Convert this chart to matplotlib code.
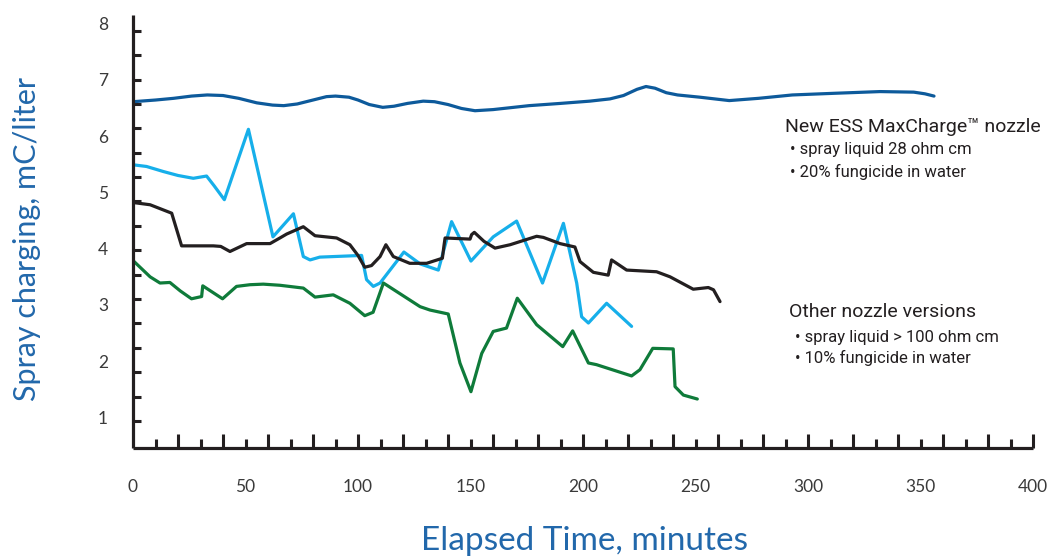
import matplotlib
matplotlib.use('Agg')
import matplotlib.pyplot as plt
import numpy as np

# New ESS MaxCharge nozzle (dark blue)
t_new = [0, 10, 18, 26, 33, 40, 47, 55, 62, 67, 73, 80, 86, 90, 96, 100, 105, 111, 116,
         122, 129, 134, 140, 146, 152, 160, 176, 190, 203, 212, 218, 224, 228, 232, 237,
         242, 252, 265, 278, 293, 312, 332, 347, 352, 356]
v_new = [6.61, 6.64, 6.67, 6.71, 6.73, 6.72, 6.67, 6.59, 6.55, 6.54, 6.57, 6.64, 6.70,
         6.71, 6.69, 6.64, 6.56, 6.51, 6.53, 6.58, 6.62, 6.61, 6.56, 6.49, 6.45, 6.47,
         6.54, 6.58, 6.62, 6.66, 6.72, 6.83, 6.88, 6.85, 6.77, 6.73, 6.69, 6.63, 6.67,
         6.73, 6.76, 6.79, 6.78, 6.75, 6.71]

# other nozzle versions
t_cyan = [0, 6, 13.5, 20, 26.8, 32.7, 36, 40.6, 51.3, 62.2, 71.3, 75.7, 78.7, 83, 101.6,
          103.8, 106.8, 109.8, 120.4, 127.6, 135.7, 141.6, 150.2, 160.1, 170.5, 182,
          191.3, 197.2, 199.4, 202.4, 210.5, 221.6]
v_cyan = [5.49, 5.46, 5.37, 5.30, 5.25, 5.29, 5.12, 4.87, 6.12, 4.21, 4.62, 3.86, 3.80,
          3.85, 3.88, 3.45, 3.33, 3.39, 3.94, 3.73, 3.62, 4.48, 3.78, 4.21, 4.49, 3.39,
          4.45, 3.39, 2.79, 2.68, 3.03, 2.62]

t_black = [0, 7.6, 17.2, 21.6, 35.7, 39, 43.1, 50.5, 60.9, 65.3, 68.3, 75.7, 80.9, 90.5,
           96.4, 100, 103, 106, 109.8, 112.4, 115.7, 123, 130.5, 137.5, 138.2, 138.7,
           149.8, 150.5, 151.7, 156, 160.9, 167.6, 179.4, 182.4, 189.8, 196.4, 198.7,
           204.6, 211.2, 212.7, 219.4, 232.7, 238.7, 249, 255.7, 258, 260.9]
v_black = [4.82, 4.78, 4.63, 4.05, 4.05, 4.04, 3.95, 4.09, 4.09, 4.19, 4.26, 4.39, 4.23,
           4.19, 4.07, 3.88, 3.67, 3.70, 3.86, 4.07, 3.86, 3.74, 3.74, 3.83, 4.05, 4.19,
           4.17, 4.25, 4.29, 4.13, 4.01, 4.07, 4.22, 4.20, 4.09, 4.03, 3.77, 3.58, 3.53,
           3.80, 3.62, 3.59, 3.50, 3.28, 3.31, 3.27, 3.06]

t_green = [0, 7.6, 12, 16.4, 21, 26, 30.5, 31, 39.8, 46, 52, 57.9, 65.3, 75.7, 80.9, 89,
           96.4, 103, 106.7, 111.3, 127.6, 132, 140.1, 145.3, 150.2, 155, 160.1, 166,
           170.8, 179.4, 191, 195.4, 202.4, 206, 221.6, 225.3, 231, 240.1, 240.9, 244.6,
           250.8]
v_green = [3.79, 3.50, 3.39, 3.40, 3.25, 3.11, 3.15, 3.34, 3.11, 3.33, 3.36, 3.37, 3.35,
           3.30, 3.14, 3.18, 3.03, 2.81, 2.87, 3.39, 2.97, 2.91, 2.84, 1.97, 1.46, 2.14,
           2.53, 2.59, 3.12, 2.65, 2.26, 2.54, 1.97, 1.94, 1.74, 1.85, 2.23, 2.22, 1.55,
           1.40, 1.33]

x_labels = [0, 50, 100, 150, 200, 250, 300, 350, 400]
y_labels = [1, 2, 3, 4, 5, 6, 7, 8]

AXIS_BLUE = '#2268ab'
INK = '#231f20'

fig = plt.figure(figsize=(10.51, 5.56), dpi=100)
ax = fig.add_axes([133 / 1051, 108 / 556, 900 / 1051, 433 / 556])

line_kw = dict(lw=2.3, solid_joinstyle='round', solid_capstyle='round')
ax.plot(t_new, v_new, color='#0d5a9b', **line_kw)
ax.plot(t_cyan, v_cyan, color='#16afea', **line_kw)
ax.plot(t_black, v_black, color=INK, **line_kw)
ax.plot(t_green, v_green, color='#0f7b3a', **line_kw)

ax.set_xlim(0, 400)
ax.set_ylim(0.46, 8.15)

for s in ['top', 'right']:
    ax.spines[s].set_visible(False)
for s in ['left', 'bottom']:
    ax.spines[s].set_linewidth(2.3)
    ax.spines[s].set_color(INK)
    ax.spines[s].set_capstyle('butt')

tick_font = dict(family=['Lato', 'DejaVu Sans'], size=12.5, color='#3a3a3a')
ax.set_xticks(x_labels)
ax.set_yticks(y_labels)
ax.set_xticklabels([str(v) for v in x_labels], **tick_font)
ax.set_yticklabels([str(v) for v in y_labels], **tick_font)
ax.tick_params(axis='x', length=0, pad=22)
ax.tick_params(axis='y', length=0, pad=18)

# decorative tick marks (not aligned with the labels, as in the original)
sx = ax.secondary_xaxis('bottom')
sx.set_xticks(np.arange(20, 401, 20))
sx.set_xticks(np.arange(10, 400, 20), minor=True)
sx.tick_params(which='major', direction='in', length=10, width=2.2, color=INK, labelbottom=False)
sx.tick_params(which='minor', direction='in', length=6.5, width=2.2, color=INK, labelbottom=False)
sx.spines['bottom'].set_visible(False)

sy = ax.secondary_yaxis('left')
sy.set_yticks(np.linspace(0.94, 7.87, 17))
sy.tick_params(direction='in', length=6, width=2.2, color=INK, labelleft=False)
sy.spines['left'].set_visible(False)

label_font = dict(family=['Lato', 'DejaVu Sans'], color=AXIS_BLUE)
ax.set_xlabel('Elapsed Time, minutes', size=24, **label_font)
ax.set_ylabel('Spray charging, mC/liter', size=22, **label_font)
ax.xaxis.set_label_coords(0.502, -0.181)
ax.yaxis.set_label_coords(-0.102, 0.483)

note_font = ['Liberation Sans Narrow', 'Roboto', 'DejaVu Sans']
ax.text(289.8, 6.16, 'New ESS MaxCharge\u2122 nozzle', family=note_font, size=14,
        color=INK, va='center', ha='left')
ax.text(292, 5.77, '\u2022 spray liquid 28 ohm cm', family=note_font, size=12,
        color=INK, va='center', ha='left')
ax.text(292, 5.36, '\u2022 20% fungicide in water', family=note_font, size=12,
        color=INK, va='center', ha='left')
ax.text(291.6, 2.88, 'Other nozzle versions', family=note_font, size=14,
        color=INK, va='center', ha='left')
ax.text(294.2, 2.43, '\u2022 spray liquid > 100 ohm cm', family=note_font, size=12,
        color=INK, va='center', ha='left')
ax.text(294.2, 2.06, '\u2022 10% fungicide in water', family=note_font, size=12,
        color=INK, va='center', ha='left')

fig.savefig('out.png', dpi=100)
